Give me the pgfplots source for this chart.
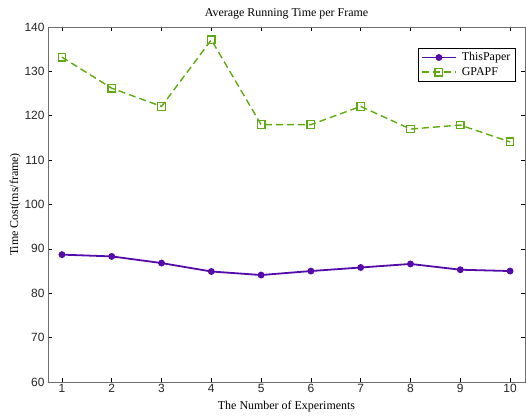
\documentclass[border=0pt]{standalone}
\usepackage{fontspec}
\setmainfont{Liberation Serif}
\newfontfamily\ticksans{Liberation Sans}
\usepackage{pgfplots}
\pgfplotsset{compat=1.18}
\definecolor{cpurple}{RGB}{85,10,170}
\definecolor{cgreen}{RGB}{95,170,15}
\definecolor{axgray}{RGB}{110,110,110}
\begin{document}
\begin{tikzpicture}
\begin{axis}[
  scale only axis,
  width=477bp, height=355bp,
  xmin=0.72, xmax=10.3,
  ymin=60, ymax=140,
  xtick={1,...,10},
  ytick={60,70,...,140},
  tick align=inside,
  major tick length=4bp,
  axis line style={axgray, line width=0.8pt},
  every tick/.style={black, line width=0.5pt},
  tick label style={font=\ticksans\fontsize{12}{13}\selectfont, text=black!85},
  /pgf/number format/assume math mode=true,
  xticklabel style={yshift=1bp},
  label style={font=\fontsize{12}{13}\selectfont},
  title style={font=\fontsize{12}{13}\selectfont, yshift=-2bp},
  title={Average Running Time per Frame},
  xlabel={The Number of Experiments},
  ylabel={Time Cost(ms/frame)},
  xlabel style={yshift=-1bp},
  ylabel style={yshift=-3bp},
  legend style={at={(0.979,0.941)}, anchor=north east, draw=black,
    font=\fontsize{12}{13}\selectfont, cells={anchor=west}, row sep=1bp, inner sep=2.5bp,
    column sep=3bp},
  legend cell align=left,
  legend image code/.code={
    \draw[mark repeat=2,mark phase=2,#1] plot coordinates {(0cm,0cm) (0.6cm,0cm) (1.2cm,0cm)};},
]
\addplot[cpurple, line width=1.8pt, mark=*, mark size=2.5pt, mark options={solid}] coordinates {
(1,88.7) (2,88.3) (3,86.8) (4,84.9) (5,84.1) (6,85.0) (7,85.8) (8,86.6) (9,85.3) (10,85.0)};
\addlegendentry{ThisPaper}
\addplot[cgreen, line width=1.4pt, dash pattern=on 7bp off 4bp, mark=square, mark size=3.8pt, mark options={solid, line width=1.3pt}] coordinates {
(1,133.2) (2,126.2) (3,122.1) (4,137.1) (5,118.0) (6,118.0) (7,122.1) (8,117.0) (9,117.9) (10,114.1)};
\addlegendentry{GPAPF}
\end{axis}
\pgfresetboundingbox
\useasboundingbox ([xshift=-48bp,yshift=-36bp]current axis.south west) rectangle ([xshift=1bp,yshift=27bp]current axis.north east);
\end{tikzpicture}
\end{document}
